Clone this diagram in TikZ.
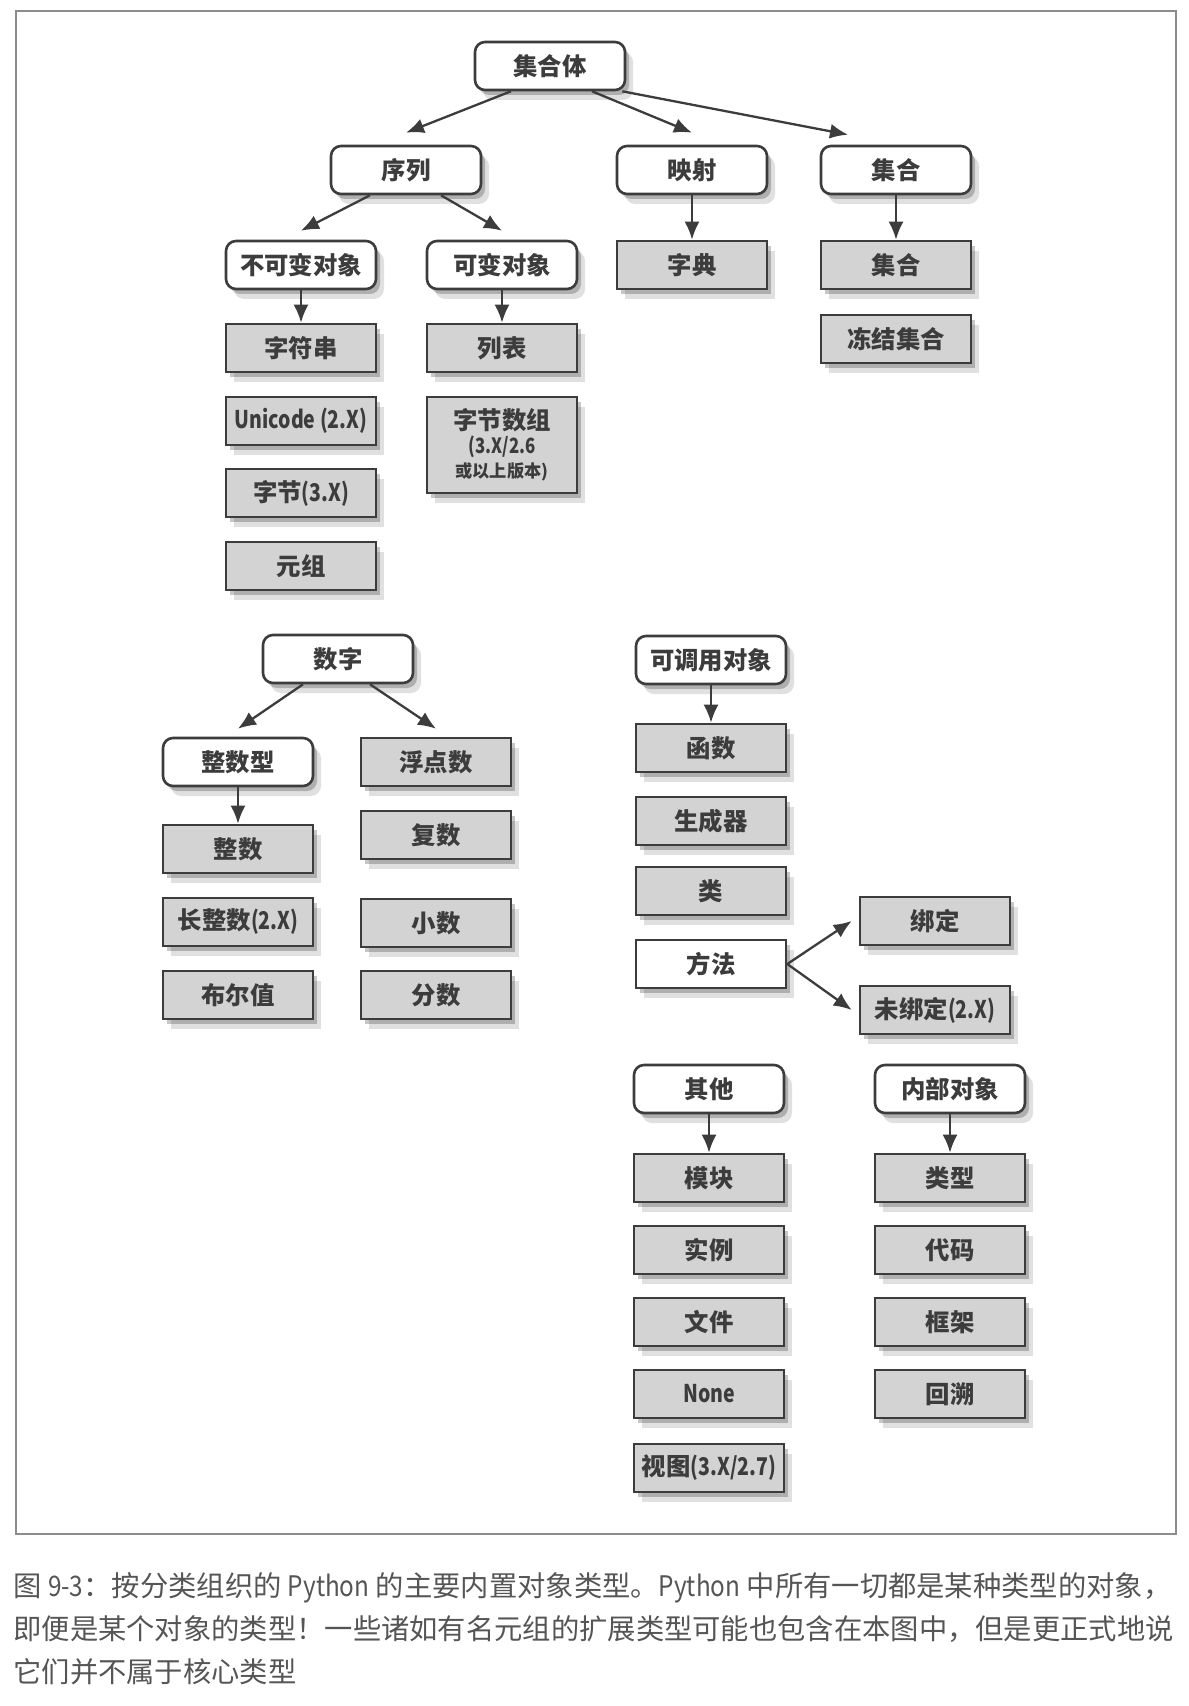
\documentclass[tikz,border=0pt]{standalone}
\usepackage{fontspec}
\usepackage{graphicx}
\usetikzlibrary{arrows.meta,shadows}
\newfontfamily\cjk{Noto Sans CJK SC}
\newcommand{\latn}[1]{\scalebox{0.8}[1]{#1}}
\newcommand{\caplatn}[1]{\scalebox{0.86}[1]{#1}}
\definecolor{inkgray}{HTML}{3C3C3C}
\definecolor{boxgray}{HTML}{D3D3D3}
\definecolor{capgray}{HTML}{555555}
\tikzset{
    base/.style={minimum width=75pt,minimum height=24pt,inner sep=0pt,
        draw=inkgray,line width=1.3pt,text=inkgray,
        font={\cjk\bfseries\fontsize{12.2pt}{14pt}\selectfont},
        general shadow={shadow xshift=2pt,shadow yshift=-2.5pt,fill=black,opacity=.22},
        general shadow={shadow xshift=4pt,shadow yshift=-5pt,fill=black,opacity=.12}},
    cat/.style={base,rounded corners=5pt,fill=white},
    leaf/.style={base,fill=boxgray},
    plainbox/.style={base,fill=white},
    arr/.style={draw=inkgray,line width=1.15pt,-{Latex[length=9pt,width=7.5pt]}}
}
\begin{document}
\begin{tikzpicture}[x=0.5pt,y=-0.5pt]
    \useasboundingbox (0,0) rectangle (1188,1706);
    \draw[black!45,line width=0.8pt] (16,11) rectangle (1176,1534);
    %% collections
    \node[cat] (coll) at (550,66) {集合体};
    \node[cat] (seq) at (406,170) {序列};
    \node[cat] (map) at (692,170) {映射};
    \node[cat] (sets) at (896,170) {集合};
    \node[cat] (immut) at (301,265) {不可变对象};
    \node[cat] (mut) at (502,265) {可变对象};
    \node[leaf] (dict) at (692,265) {字典};
    \node[leaf] (set) at (896,265) {集合};
    \node[leaf] (fset) at (896,339) {冻结集合};
    \node[leaf] (str) at (301,348) {字符串};
    \node[leaf] (uni) at (301,421) {\latn{Unicode (2.X)}};
    \node[leaf] (bytes) at (301,493) {字节\latn{(3.X)}};
    \node[leaf] (tuple) at (301,566) {元组};
    \node[leaf] (list) at (502,348) {列表};
    \node[leaf,minimum height=48pt,align=center] (barr) at (502,445)
        {字节数组\\[-2pt]{\fontsize{10.5pt}{12pt}\selectfont\latn{(3.X/2.6}}\\[-2pt]{\fontsize{8.6pt}{10pt}\selectfont 或以上版本)}};
    %% numbers
    \node[cat] (num) at (338,659) {数字};
    \node[cat] (intt) at (238,762) {整数型};
    \node[leaf] (float) at (436,762) {浮点数};
    \node[leaf] (int) at (238,849) {整数};
    \node[leaf] (cplx) at (436,835) {复数};
    \node[leaf] (long) at (238,922) {长整数\latn{(2.X)}};
    \node[leaf] (dec) at (436,923) {小数};
    \node[leaf] (bool) at (238,995) {布尔值};
    \node[leaf] (frac) at (436,995) {分数};
    %% callables
    \node[cat] (call) at (711,660) {可调用对象};
    \node[leaf] (func) at (711,748) {函数};
    \node[leaf] (gen) at (711,821) {生成器};
    \node[leaf] (cls) at (711,891) {类};
    \node[plainbox] (meth) at (711,964) {方法};
    \node[leaf] (bound) at (935,921) {绑定};
    \node[leaf] (unbound) at (935,1010) {未绑定\latn{(2.X)}};
    %% other and internals
    \node[cat] (other) at (709,1089) {其他};
    \node[cat] (intern) at (950,1089) {内部对象};
    \node[leaf] (mod) at (709,1178) {模块};
    \node[leaf] (inst) at (709,1250) {实例};
    \node[leaf] (file) at (709,1322) {文件};
    \node[leaf] (none) at (709,1394) {\latn{None}};
    \node[leaf] (view) at (709,1468) {视图\latn{(3.X/2.7)}};
    \node[leaf] (type) at (950,1178) {类型};
    \node[leaf] (code) at (950,1250) {代码};
    \node[leaf] (frame) at (950,1322) {框架};
    \node[leaf] (tb) at (950,1394) {回溯};
    %% arrows
    \draw[arr] ([xshift=-19.5pt]coll.south) -- ([yshift=6pt]seq.north);
    \draw[arr] ([xshift=21pt]coll.south) -- ([yshift=6pt]map.north);
    \draw[arr] ([xshift=-2pt]coll.south east) -- ([xshift=-24pt,yshift=5pt]sets.north);
    \draw[arr] ([xshift=-18pt]seq.south) -- ([yshift=4.5pt]immut.north);
    \draw[arr] ([xshift=17.5pt]seq.south) -- ([yshift=4.5pt]mut.north);
    \draw[arr] (map) -- (dict);
    \draw[arr] (sets) -- (set);
    \draw[arr] (immut) -- (str);
    \draw[arr] (mut) -- (list);
    \draw[arr] ([xshift=-17.5pt]num.south) -- ([yshift=4pt]intt.north);
    \draw[arr] ([xshift=16pt]num.south) -- ([yshift=4pt]float.north);
    \draw[arr] (intt) -- (int);
    \draw[arr] (call) -- (func);
    \draw[arr] (meth.east) -- ([xshift=-3.5pt]bound.west);
    \draw[arr] (meth.east) -- ([xshift=-3.5pt]unbound.west);
    \draw[arr] (other) -- (mod);
    \draw[arr] (intern) -- (type);
    %% caption
    \node[anchor=north west,align=left,inner sep=0pt,text=capgray,
        font={\cjk\fontsize{14.15pt}{21.5pt}\selectfont}] (cap) at (13,1572)
        {图 \caplatn{9-3}：按分类组织的 \caplatn{Python} 的主要内置对象类型。\caplatn{Python} 中所有一切都是某种类型的对象，\\
        即便是某个对象的类型！一些诸如有名元组的扩展类型可能也包含在本图中，但是更正式地说\\
        它们并不属于核心类型};
\end{tikzpicture}
\end{document}
